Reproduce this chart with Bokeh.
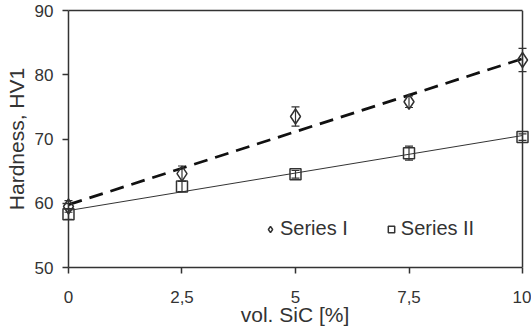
import numpy as np
from bokeh.plotting import figure
from bokeh.models import (ColumnDataSource, Range1d, FixedTicker, Whisker, TeeHead,
                          Legend, LegendItem, LinearAxis, Span)
from bokeh.embed import file_html
from bokeh.resources import INLINE

# ---- data ----
vol_sic = [0, 2.5, 5, 7.5, 10]
series1 = [59.5, 64.6, 73.5, 75.8, 82.3]
series1_err = [0.9, 1.2, 1.5, 0.9, 1.8]
series2 = [58.3, 62.6, 64.5, 67.8, 70.3]
series2_err = [0.8, 0.8, 0.6, 1.1, 0.5]
x_ticks = [0, 2.5, 5, 7.5, 10]
x_tick_labels = ["0", "2,5", "5", "7,5", "10"]
y_ticks = [50, 60, 70, 80, 90]
x_min, x_max = 0, 10
y_min, y_max = 50, 90

FONT = "Liberation Sans"
INK = "#333333"
TXT = "#333333"

p = figure(width=531, height=334, output_backend="svg", toolbar_location=None,
           x_range=Range1d(-0.176, 10.154), y_range=Range1d(y_min, y_max),
           min_border_left=60, min_border_right=2, min_border_top=10, min_border_bottom=67)
p.grid.visible = False
p.outline_line_color = None
p.background_fill_color = "white"
p.border_fill_color = "white"

xa = p.xaxis[0]
ya = p.yaxis[0]
for ax in (xa, ya):
    ax.major_tick_line_color = INK
    ax.major_tick_line_width = 1.5
    ax.minor_tick_line_color = None
    ax.major_label_text_font = FONT
    ax.major_label_text_font_size = "17px"
    ax.major_label_text_color = TXT
    ax.axis_label_text_font = FONT
    ax.axis_label_text_font_size = "21px"
    ax.axis_label_text_font_style = "normal"
    ax.axis_label_text_color = TXT

# x axis: line spans only the data extent 0..10
xa.bounds = (x_min, x_max)
xa.axis_line_color = INK
xa.axis_line_width = 1.5
xa.major_tick_out = 6
xa.major_tick_in = 0
xa.ticker = FixedTicker(ticks=x_ticks)
xa.major_label_overrides = {t: l for t, l in zip(x_ticks, x_tick_labels)}
xa.major_label_standoff = 17
xa.axis_label = "vol. SiC [%]"
xa.axis_label_standoff = -3

# y axis: ticks sit on the x=0 line (drawn as a span)
ya.axis_line_color = None
ya.major_tick_out = -2
ya.major_tick_in = 8
ya.ticker = FixedTicker(ticks=y_ticks)
ya.major_label_standoff = 7
ya.axis_label = "Hardness, HV1"
ya.axis_label_standoff = 4

# top frame line limited to 0..10
top = LinearAxis(bounds=(x_min, x_max), axis_line_color=INK, axis_line_width=1.5,
                 major_tick_line_color=None, minor_tick_line_color=None,
                 major_label_text_font_size="0px", major_label_standoff=0,
                 ticker=FixedTicker(ticks=[]))
p.add_layout(top, "above")
p.add_layout(Span(location=x_min, dimension="height", line_color=INK, line_width=1.5))
p.add_layout(Span(location=x_max, dimension="height", line_color=INK, line_width=1.5))

x = np.array(vol_sic)
# linear trend lines fitted to each series
k1, b1 = np.polyfit(x, series1, 1)
k2, b2 = np.polyfit(x, series2, 1)
xs = [x_min, x_max]
p.line(xs, [b1 + k1 * v for v in xs], line_color="#111111", line_width=2.75, line_dash="14 8")
p.line(xs, [b2 + k2 * v for v in xs], line_color=INK, line_width=1)

src1 = ColumnDataSource(dict(x=vol_sic, y=series1,
                             lo=[v - e for v, e in zip(series1, series1_err)],
                             hi=[v + e for v, e in zip(series1, series1_err)]))
src2 = ColumnDataSource(dict(x=vol_sic, y=series2,
                             lo=[v - e for v, e in zip(series2, series2_err)],
                             hi=[v + e for v, e in zip(series2, series2_err)]))
for src in (src1, src2):
    w = Whisker(base="x", lower="lo", upper="hi", source=src, line_color=INK, line_width=1.2,
                upper_head=TeeHead(size=8, line_color=INK, line_width=1.2),
                lower_head=TeeHead(size=8, line_color=INK, line_width=1.2))
    p.add_layout(w)

r1 = p.scatter("x", "y", source=src1, marker="diamond", size=15, fill_alpha=0,
               line_color=INK, line_width=1.5)
r2 = p.scatter("x", "y", source=src2, marker="square", size=11, fill_alpha=0,
               line_color=INK, line_width=1.5)

legend = Legend(items=[LegendItem(label="Series I", renderers=[r1]),
                       LegendItem(label="Series II", renderers=[r2])],
                orientation="horizontal", location=(202, 27),
                label_text_font=FONT, label_text_font_size="20px", label_text_color=TXT,
                glyph_width=16, glyph_height=16, label_standoff=2, spacing=35,
                border_line_color=None, background_fill_alpha=0,
                padding=0, margin=0)
p.add_layout(legend)

open("out.html", "w").write(file_html(p, INLINE))
